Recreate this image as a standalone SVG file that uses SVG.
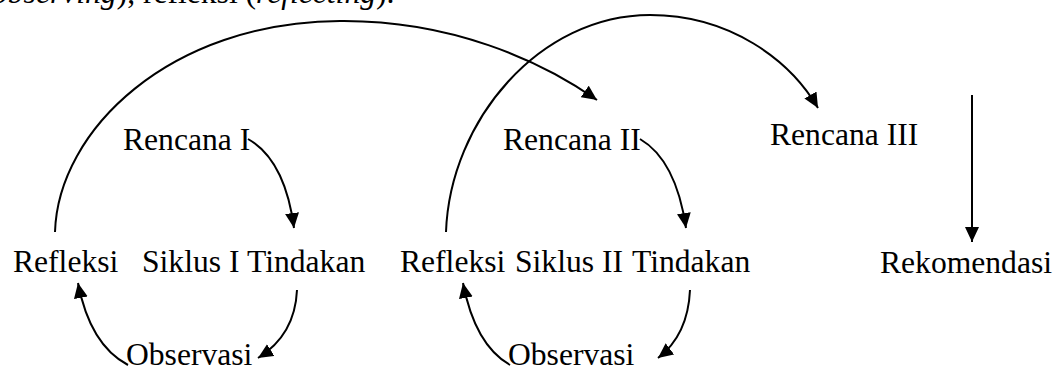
<svg xmlns="http://www.w3.org/2000/svg" width="1059" height="380" viewBox="0 0 1059 380">
<style>
text{font-family:"Liberation Serif","Times New Roman",serif;font-size:31.6px;fill:#000}
.it{font-style:italic}
.c{fill:none;stroke:#000;stroke-width:2;marker-end:url(#ah)}
</style>
<defs>
<marker id="ah" markerUnits="userSpaceOnUse" markerWidth="16" markerHeight="14" refX="15" refY="7" orient="auto" viewBox="0 0 16 14">
<path d="M0,0 L15,7 L0,14 z" fill="#000"/>
</marker>
</defs>
<rect width="1059" height="380" fill="#fff"/>
<text x="-8" y="3"><tspan class="it">observing</tspan>), refleksi (<tspan class="it">reflecting</tspan>).</text>
<g id="connectors">
<path class="c" d="M55,232 C58,130 170,22 340,21 C450,20 540,60 597,100"/>
<path class="c" d="M446,232 C450,120 540,15 650,15 C730,15 790,60 818,108"/>
<path class="c" d="M248,139 Q285,160 294,228"/>
<path class="c" d="M297,290 Q295,335 258,358"/>
<path class="c" d="M128,365 Q90,345 78,283"/>
<path class="c" d="M640,139 Q676,160 686,228"/>
<path class="c" d="M690,290 Q688,335 658,358"/>
<path class="c" d="M510,365 Q475,345 463,283"/>
<path class="c" d="M972,95 L972,242"/>
</g>
<g id="rencana1"><text x="123" y="150">Rencana I</text></g>
<g id="rencana2"><text x="503" y="150">Rencana II</text></g>
<g id="rencana3"><text x="770" y="145">Rencana III</text></g>
<g id="refleksi1"><text x="13" y="272">Refleksi</text></g>
<g id="siklus1"><text x="142" y="272">Siklus I</text></g>
<g id="tindakan1"><text x="247" y="272">Tindakan</text></g>
<g id="refleksi2"><text x="400" y="272">Refleksi</text></g>
<g id="siklus2"><text x="515" y="272">Siklus II</text></g>
<g id="tindakan2"><text x="632" y="272">Tindakan</text></g>
<g id="rekomendasi"><text x="880" y="273">Rekomendasi</text></g>
<g id="observasi1"><text x="126" y="365">Observasi</text></g>
<g id="observasi2"><text x="508" y="365">Observasi</text></g>
</svg>
